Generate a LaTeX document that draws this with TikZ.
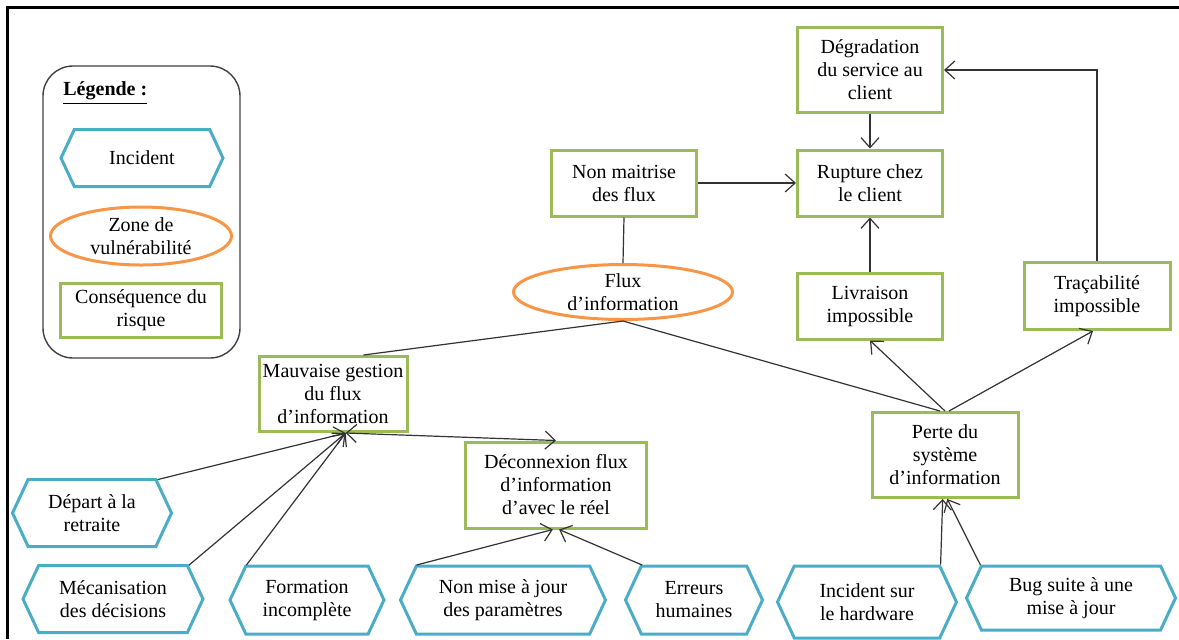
\documentclass[tikz,border=0pt]{standalone}
\usepackage{fontspec}
\setmainfont{Liberation Serif}
\usetikzlibrary{shapes.geometric,shapes.symbols,arrows.meta}
\definecolor{cgreen}{HTML}{9BBB59}
\definecolor{cblue}{HTML}{4BACC6}
\definecolor{corange}{HTML}{F79646}
\newcommand\dtxt{\fontsize{10}{11.5}\selectfont}
\begin{document}
\begin{tikzpicture}[x=0.5pt,y=-0.5pt,
 cons/.style={draw=cgreen, line width=1.5pt, fill=white, align=center, inner sep=0pt, font=\dtxt},
 inc/.style={signal, signal to=west and east, signal pointer angle=130, draw=cblue, line width=1.5pt, fill=white, align=center, inner sep=0pt, font=\dtxt},
 vul/.style={ellipse, draw=corange, line width=1.5pt, fill=white, inner sep=0pt},
 txtn/.style={align=center, inner sep=0pt, font=\dtxt},
 arr/.style={-{Straight Barb[length=5pt,width=9pt]}, line width=0.6pt, draw=black!80},
 lnk/.style={line width=0.6pt, draw=black!80}]
\useasboundingbox (0,0) rectangle (1179,639);
% frame
\draw[line width=1.5pt] (7,639) coordinate (fbl) -- (7,7) coordinate (ftl) -- (1179,7) coordinate (ftr);
% legend
\draw[draw=black!75, line width=0.7pt, rounded corners=15pt] (43,66) rectangle (240,358);
\node[txtn, anchor=west] (leg) at (63,93) {\underline{\textbf{Légende :}}};
\node[inc, minimum width=81pt, minimum height=28.5pt] (linc) at (142,158) {Incident};
\node[vul, minimum width=90.5pt, minimum height=29pt] (lvul) at (141,236) {};
\node[txtn] (lvult) at (lvul) {Zone de\\vulnérabilité};
\node[cons, minimum width=80.5pt, minimum height=27pt] (lcons) at (141,310) {Conséquence du\\risque};
% consequences
\node[cons, minimum width=72.5pt, minimum height=42.5pt] (deg) at (870,70) {Dégradation\\du service au\\client};
\node[cons, minimum width=72.5pt, minimum height=33pt] (nm) at (624,183) {Non maitrise\\des flux};
\node[cons, minimum width=72.5pt, minimum height=33pt] (rup) at (870,183) {Rupture chez\\le client};
\node[cons, minimum width=72.5pt, minimum height=33pt] (liv) at (870,306) {Livraison\\impossible};
\node[cons, minimum width=73pt, minimum height=33.5pt] (tra) at (1097,296) {Traçabilité\\impossible};
\node[cons, minimum width=74pt, minimum height=37.5pt] (mg) at (333,394) {Mauvaise gestion\\du flux\\d’information};
\node[cons, minimum width=90.5pt, minimum height=43pt] (dec) at (556,485) {Déconnexion flux\\d’information\\d’avec le réel};
\node[cons, minimum width=73pt, minimum height=42.5pt] (per) at (945,455) {Perte du\\système\\d’information};
% vulnerability
\node[vul, minimum width=109.5pt, minimum height=27.5pt] (flux) at (623,292) {};
\node[txtn] (fluxt) at (flux) {Flux\\d’information};
% incidents
\node[inc, minimum width=79.5pt, minimum height=33.5pt] (dep) at (92,513) {Départ à la\\retraite};
\node[inc, minimum width=90pt, minimum height=33.5pt] (mec) at (113,599) {Mécanisation\\des décisions};
\node[inc, minimum width=77pt, minimum height=34pt] (for) at (307,600) {Formation\\incomplète};
\node[inc, minimum width=102.5pt, minimum height=34pt] (nmj) at (503,600) {Non mise à jour\\des paramètres};
\node[inc, minimum width=68.5pt, minimum height=34pt] (err) at (694,600) {Erreurs\\humaines};
\node[inc, minimum width=89.5pt, minimum height=36pt] (ihw) at (867,602) {Incident sur\\le hardware};
\node[inc, minimum width=104.5pt, minimum height=32pt] (bug) at (1071,598) {Bug suite à une\\mise à jour};
% connectors
\draw[lnk] (nm.south) -- (flux.north);
\draw[arr] (nm.east) -- (rup.west);
\draw[arr] (deg.south) -- (rup.north);
\draw[arr] (liv.north) -- (rup.south);
\draw[arr] (tra.north) |- (deg.east);
\draw[lnk] (flux.south) -- (mg.52);
\draw[lnk] (flux.south) -- ([xshift=-2.5pt]per.north);
\draw[arr] (per.north) -- (liv.south);
\draw[arr] ([xshift=2pt]per.north) -- ([xshift=-2pt]tra.south);
\draw[arr] (dep.27) -- (mg.-72);
\draw[arr] (mec.24) -- (mg.-72);
\draw[arr] (for.150) -- (mg.-72);
\draw[{Straight Barb[length=5pt,width=9pt]}-{Straight Barb[length=5pt,width=9pt]}, lnk] (mg.-72) -- (dec.north);
\draw[arr] (nmj.158) -- (dec.-94);
\draw[arr] (err.146) -- (dec.-86);
\draw[arr] (ihw.27) -- (per.-93);
\draw[arr] (bug.160) -- (per.-87);
\end{tikzpicture}
\end{document}
